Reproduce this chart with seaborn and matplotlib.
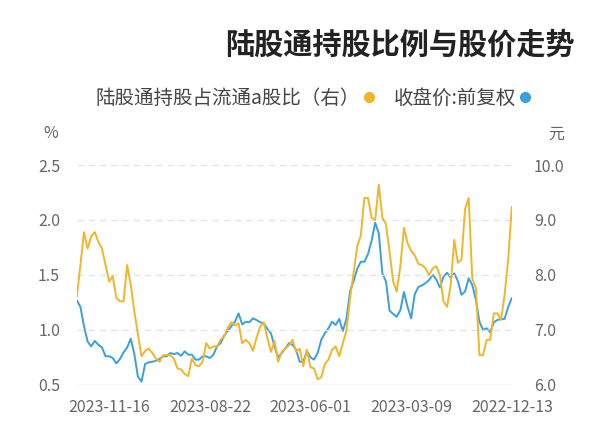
import numpy as np
import pandas as pd
import matplotlib
matplotlib.use("Agg")
import matplotlib.pyplot as plt
import seaborn as sns
from matplotlib.lines import Line2D

sns.set_theme(style="white")
plt.rcParams['font.family'] = ['Noto Sans CJK SC', 'DejaVu Sans']

title = "陆股通持股比例与股价走势"
name_price = "收盘价:前复权"
name_share = "陆股通持股占流通a股比（右）"
tick_labels = ["2022-12-13", "2023-03-09", "2023-06-01", "2023-08-22", "2023-11-16"]
tick_idx = [0, 56, 112, 168, 224]

# holding ratio (%), every 2 trading days from 2022-12-13
share_pct = [2.12, 1.64, 1.32, 1.09, 1.15, 1.15, 0.91, 0.91, 0.77, 0.77,
             1.38, 1.47, 2.20, 2.10, 1.64, 1.61, 1.82, 1.41, 1.21, 1.26,
             1.50, 1.58, 1.56, 1.50, 1.56, 1.59, 1.60, 1.68, 1.72, 1.79,
             1.93, 1.58, 1.35, 1.44, 1.71, 1.96, 2.02, 2.32, 2.00, 2.02,
             2.20, 2.20, 1.86, 1.76, 1.52, 1.29, 0.99, 0.88, 0.76, 0.85,
             0.82, 0.73, 0.69, 0.57,
             0.55, 0.65, 0.66, 0.82, 0.67, 0.83, 0.80, 0.91, 0.86, 0.83,
             0.80, 0.71, 0.90, 0.80, 0.93, 1.07, 1.03, 0.93, 0.81, 0.88,
             0.91, 0.88, 1.06, 1.04, 1.07, 1.02, 0.94, 0.91, 0.85, 0.85,
             0.83, 0.88, 0.71, 0.67, 0.68, 0.74, 0.58, 0.60, 0.64, 0.65,
             0.74, 0.77, 0.77, 0.77, 0.71, 0.74, 0.79, 0.83, 0.81, 0.76,
             0.96, 1.17, 1.41, 1.59, 1.26, 1.26, 1.29, 1.49, 1.44, 1.59,
             1.74, 1.80, 1.89, 1.85, 1.74, 1.89, 1.59, 1.30]

# close price (yuan)
price = [7.58, 7.42, 7.20, 7.20, 7.18, 7.14, 6.96, 7.03, 7.00, 7.15,
         7.55, 7.82, 7.94, 7.70, 7.64, 7.89, 8.03, 7.95, 8.04, 7.97,
         7.77, 7.92, 8.00, 7.91, 7.85, 7.81, 7.78, 7.65, 7.21, 7.42,
         7.69, 7.36, 7.24, 7.29, 7.35, 7.88, 8.03, 8.76, 8.95, 8.62,
         8.38, 8.24, 8.24, 8.11, 7.89, 7.70, 7.20, 6.98, 7.20, 7.09,
         7.15, 7.03, 6.94, 6.82,
         6.58, 6.46, 6.50, 6.61, 6.42, 6.42, 6.64, 6.73, 6.76, 6.66,
         6.58, 6.50, 6.70, 6.94, 7.02, 7.12, 7.14, 7.18, 7.21, 7.14,
         7.15, 7.10, 7.30, 7.15, 7.07, 6.98, 6.90, 6.76, 6.70, 6.55,
         6.49, 6.52, 6.52, 6.46, 6.46, 6.55, 6.55, 6.61, 6.53, 6.58,
         6.56, 6.58, 6.52, 6.52, 6.47, 6.44, 6.42, 6.41, 6.38, 6.06,
         6.15, 6.56, 6.84, 6.68, 6.59, 6.47, 6.39, 6.49, 6.52, 6.52,
         6.68, 6.73, 6.80, 6.70, 6.79, 7.07, 7.42, 7.54]

c_blue = "#3A9FDD"
c_yellow = "#F2B52A"
c_text = "#666666"

idx = np.arange(0, 2 * len(price), 2)
df = pd.DataFrame({"idx": idx, "price": price, "share": share_pct})

fig = plt.figure(figsize=(6.0, 4.46), dpi=100)
ax = fig.add_axes([0.128, 0.137, 0.725, 0.493])
ax2 = ax.twinx()

sns.lineplot(data=df, x="idx", y="share", ax=ax, color=c_yellow, linewidth=1.4)
sns.lineplot(data=df, x="idx", y="price", ax=ax2, color=c_blue, linewidth=1.4)
ax.set_zorder(ax2.get_zorder() + 1)
ax.patch.set_visible(False)

ax.set_xlim(242, 0)
ax.set_ylim(0.5, 2.5)
ax2.set_ylim(6.0, 10.0)
ax.set_yticks([0.5, 1.0, 1.5, 2.0, 2.5])
ax.set_yticklabels(["0.5", "1.0", "1.5", "2.0", "2.5"])
ax2.set_yticks([6, 7, 8, 9, 10])
ax2.set_yticklabels(["6.0", "7.0", "8.0", "9.0", "10.0"])
ax.set_xticks(tick_idx)
ax.set_xticklabels(tick_labels)

for a in (ax, ax2):
    for s in a.spines.values():
        s.set_visible(False)
    a.set_xlabel("")
    a.set_ylabel("")
    a.tick_params(length=0, labelsize=11.5, colors=c_text)
ax.tick_params(axis='y', pad=12)
ax2.tick_params(axis='y', pad=16)
ax.tick_params(axis='x', pad=10)

for v in [1.0, 1.5, 2.0, 2.5]:
    ax.axhline(v, color="#E3E3E3", linewidth=0.9, linestyle=(0, (5, 4)), zorder=0)
ax.axhline(0.5, color="#E0E0E0", linewidth=1.0, zorder=0)

fig.text(0.072, 0.70, "%", fontsize=11.5, color=c_text, ha="left", va="center")
fig.text(0.94, 0.70, "元", fontsize=11.5, color=c_text, ha="right", va="center")

fig.text(0.958, 0.899, title, fontsize=21, fontweight="bold", color="#222222",
         ha="right", va="center")

handles = [Line2D([], [], linestyle="none", marker="o", markersize=7,
                  color=c_yellow),
           Line2D([], [], linestyle="none", marker="o", markersize=7,
                  color=c_blue)]
leg = fig.legend(handles, [name_share, name_price], loc="center",
                 bbox_to_anchor=(0.522, 0.78), ncol=2, frameon=False,
                 markerfirst=False, fontsize=14, handletextpad=0.15,
                 columnspacing=1.0, handlelength=0.6)
for t in leg.get_texts():
    t.set_color("#444444")

fig.savefig("out.png", dpi=100)
